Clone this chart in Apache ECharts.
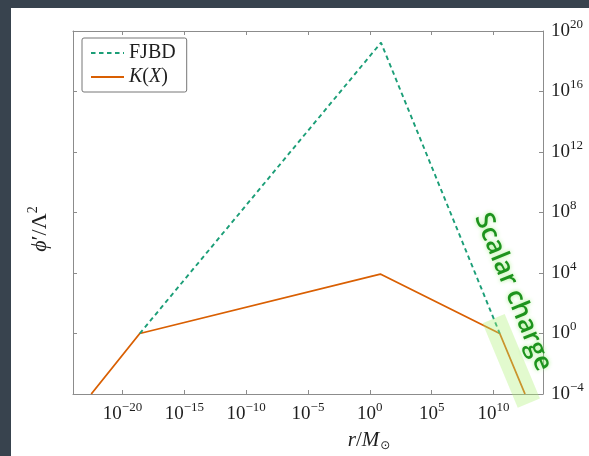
<!DOCTYPE html>
<html>
<head>
<meta charset="utf-8">
<script src="https://cdn.jsdelivr.net/npm/echarts@6/dist/echarts.min.js"></script>
<style>
  html, body { margin: 0; padding: 0; background: #38434e; }
  #chart { width: 589px; height: 456px; }
</style>
</head>
<body>
<div id="chart"></div>
<script>
// Radius (in solar masses) and field gradient for the two profiles
const fjbdR   = [2.5e-19, 8, 3.2e10];
const fjbdPhi = [1, 1.7e19, 1];
const kxR     = [3e-23, 2.5e-19, 7, 3.2e10, 3.5e12];
const kxPhi   = [1e-4, 1, 8.5e3, 1, 1e-4];

// Axis ranges and tick positions
const xRange = [1e-24, 1e14];
const yRange = [1e-4, 1e20];
const xTicks = [1e-20, 1e-15, 1e-10, 1e-5, 1, 1e5, 1e10];
const yTicks = [1e-4, 1, 1e4, 1e8, 1e12, 1e16, 1e20];

// Segment of K(X) singled out as the scalar-charge region (start/end index)
const chargeSeg = [3, 4];

const SERIF = '"Liberation Serif", "DejaVu Serif", serif';
const AXIS_GREY = '#8c8c8c';
const INK = '#1e1e1e';

function pow10Label(v) {
  const e = Math.round(Math.log10(v));
  return '{b|10}{s|' + (e < 0 ? '\u2212' + (-e) : e) + '}';
}
const powRich = {
  b: { fontFamily: SERIF, fontSize: 19, color: INK },
  s: { fontFamily: SERIF, fontSize: 13, color: INK, padding: [0, 0, 13, 0] }
};

function xAxisCfg(pos, labels) {
  return {
    type: 'log', logBase: 10, position: pos,
    min: xRange[0], max: xRange[1],
    axisLine: { show: true, onZero: false, lineStyle: { color: AXIS_GREY, width: 1 } },
    axisTick: { show: true, inside: true, length: 4, customValues: xTicks, lineStyle: { color: AXIS_GREY } },
    axisLabel: { show: labels, customValues: xTicks, formatter: pow10Label, rich: powRich, margin: 7 },
    splitLine: { show: false }, minorTick: { show: false }
  };
}
function yAxisCfg(pos, labels) {
  return {
    type: 'log', logBase: 10, position: pos,
    min: yRange[0], max: yRange[1],
    axisLine: { show: true, onZero: false, lineStyle: { color: AXIS_GREY, width: 1 } },
    axisTick: { show: true, inside: true, length: 4, customValues: yTicks, lineStyle: { color: AXIS_GREY } },
    axisLabel: { show: labels, customValues: yTicks, formatter: pow10Label, rich: powRich, margin: 8, align: 'left' },
    splitLine: { show: false }, minorTick: { show: false }
  };
}

const chart = echarts.init(document.getElementById('chart'), null, { renderer: 'canvas' });

const fjbdData = fjbdR.map((r, i) => [r, fjbdPhi[i]]);
const kxData = kxR.map((r, i) => [r, kxPhi[i]]);

chart.setOption({
  animation: false,
  backgroundColor: '#38434e',
  grid: { left: 73, right: 46, top: 31, bottom: 62, outerBoundsMode: 'none', containLabel: false },
  xAxis: [xAxisCfg('bottom', true), xAxisCfg('top', false)],
  yAxis: [yAxisCfg('right', true), yAxisCfg('left', false)],
  legend: {
    orient: 'vertical', left: 82, top: 38,
    itemWidth: 33, itemHeight: 12, itemGap: 4,
    padding: [5, 11, 5, 8],
    backgroundColor: '#fff', borderColor: '#777', borderWidth: 1, borderRadius: 2,
    itemStyle: { color: 'rgba(0,0,0,0)', borderColor: 'rgba(0,0,0,0)', borderWidth: 0 },
    data: ['FJBD', 'K(X)'],
    formatter: name => name === 'K(X)' ? '{i|K}{n|(}{i|X}{n|)}' : '{n|' + name + '}',
    textStyle: {
      rich: {
        n: { fontFamily: SERIF, fontSize: 20, color: INK },
        i: { fontFamily: SERIF, fontSize: 20, fontStyle: 'italic', color: INK }
      }
    }
  },
  series: [
    {
      name: 'FJBD', type: 'line', data: fjbdData,
      xAxisIndex: 0, yAxisIndex: 0,
      symbol: 'none', showSymbol: false,
      lineStyle: { color: '#1b9e77', width: 1.9, type: [4.5, 3.5] },
      itemStyle: { color: '#1b9e77' }, z: 3
    },
    {
      name: 'K(X)', type: 'line', data: kxData,
      xAxisIndex: 0, yAxisIndex: 0,
      symbol: 'none', showSymbol: false,
      lineStyle: { color: '#d95f02', width: 1.8 },
      itemStyle: { color: '#d95f02' }, z: 2
    }
  ],
  graphic: [
    { id: 'panel', type: 'rect', z: -100, silent: true,
      shape: { x: 11, y: 8, width: 578, height: 448 },
      style: { fill: '#ffffff' } },
    { id: 'xname', type: 'text', x: 369, y: 440, z: 10,
      style: {
        text: '{i|r}{n|/}{i|M}{sub|\u2299}',
        align: 'center', verticalAlign: 'middle',
        rich: {
          i: { fontFamily: SERIF, fontSize: 21, fontStyle: 'italic', fill: INK },
          n: { fontFamily: SERIF, fontSize: 21, fill: INK },
          sub: { fontFamily: '"DejaVu Sans", sans-serif', fontSize: 12, fill: INK, padding: [12, 0, 0, 1] }
        }
      } },
    { id: 'yname', type: 'text', x: 40, y: 229, rotation: Math.PI / 2, z: 10,
      style: {
        text: '{i|\u03d5}{n|\u2032/\u039b}{s|2}',
        align: 'center', verticalAlign: 'middle',
        rich: {
          i: { fontFamily: SERIF, fontSize: 22, fontStyle: 'italic', fill: INK },
          n: { fontFamily: SERIF, fontSize: 22, fill: INK },
          s: { fontFamily: SERIF, fontSize: 14, fill: INK, padding: [0, 0, 13, 0] }
        }
      } },
    { id: 'charge', type: 'text', x: 513, y: 292, rotation: -68 * Math.PI / 180, z: 20,
      style: {
        text: 'Scalar charge',
        align: 'center', verticalAlign: 'middle',
        fontFamily: '"Open Sans", "Noto Sans", sans-serif', fontSize: 26, fontWeight: 600,
        fill: '#1d931d',
        textShadowColor: 'rgba(160,240,130,0.9)', textShadowBlur: 4
      } }
  ]
});

// Highlighter band drawn along the scalar-charge segment of K(X)
function drawHighlight() {
  const a = chart.convertToPixel({ xAxisIndex: 0, yAxisIndex: 0 }, kxData[chargeSeg[0]]);
  const b = chart.convertToPixel({ xAxisIndex: 0, yAxisIndex: 0 }, kxData[chargeSeg[1]]);
  const dx = b[0] - a[0], dy = b[1] - a[1];
  const len = Math.hypot(dx, dy);
  const ux = dx / len, uy = dy / len;
  const nx = -uy, ny = ux;
  const half = 12, pre = 16, post = 10;
  const s = [a[0] - ux * pre, a[1] - uy * pre];
  const e = [b[0] + ux * post, b[1] + uy * post];
  chart.setOption({
    graphic: [{
      id: 'band', type: 'polygon', z: 15, silent: true,
      shape: { points: [
        [s[0] + nx * half, s[1] + ny * half],
        [e[0] + nx * half, e[1] + ny * half],
        [e[0] - nx * half, e[1] - ny * half],
        [s[0] - nx * half, s[1] - ny * half]
      ] },
      style: { fill: 'rgba(175,240,120,0.36)' }
    }]
  });
}
drawHighlight();
</script>
</body>
</html>
